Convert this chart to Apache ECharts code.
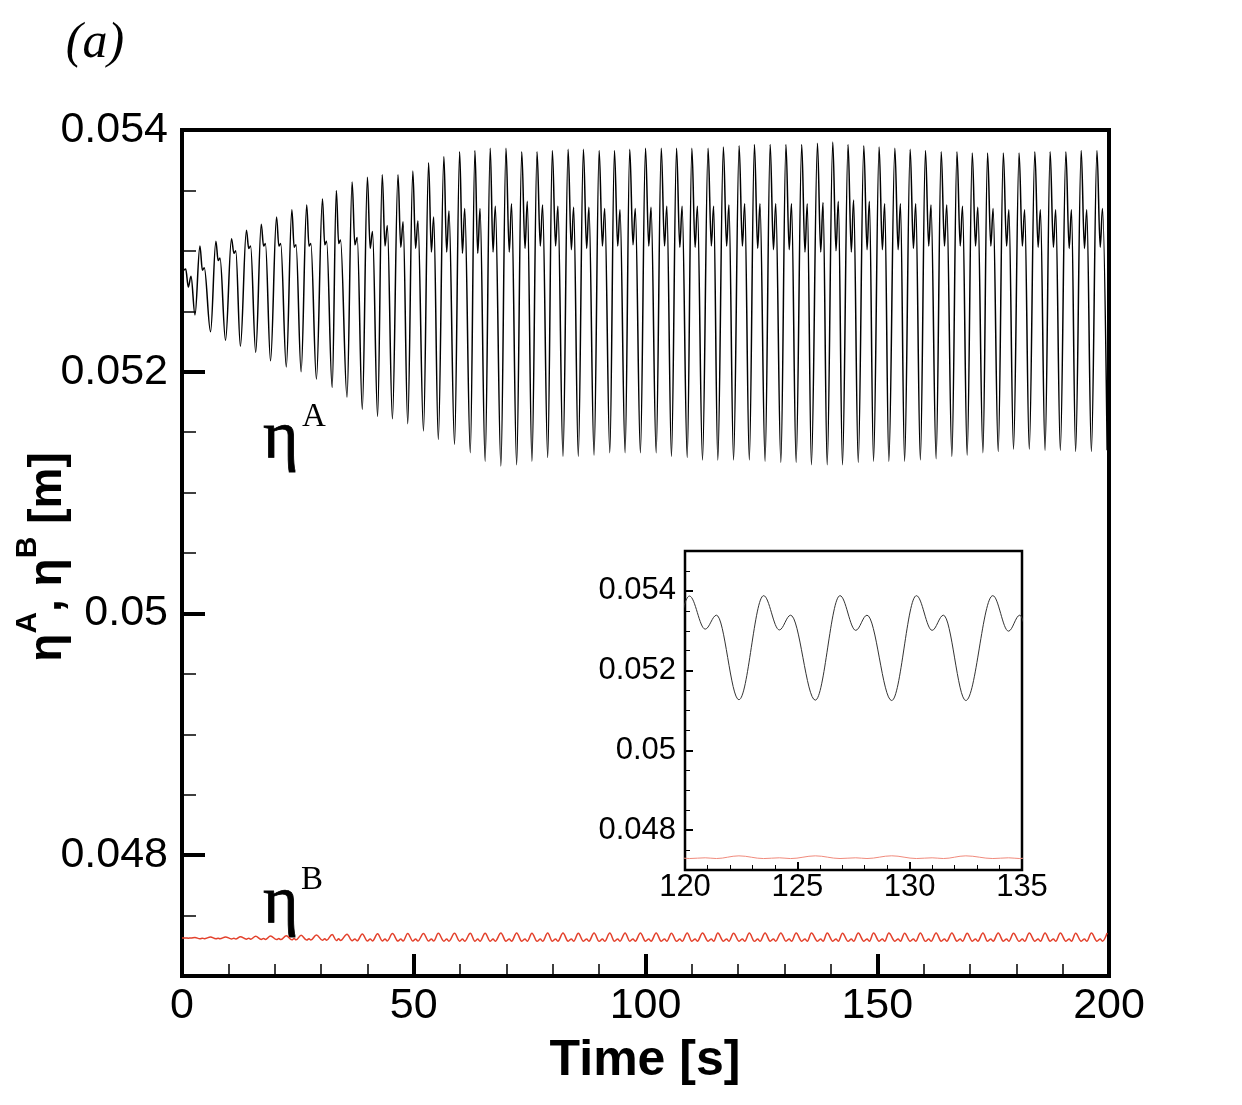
<!DOCTYPE html>
<html>
<head>
<meta charset="utf-8">
<script src="https://cdn.jsdelivr.net/npm/echarts@6/dist/echarts.min.js"></script>
<style>
html, body { margin: 0; padding: 0; background: #fff; }
#chart { width: 1242px; height: 1105px; }
</style>
</head>
<body>
<div id="chart"></div>
<script>
// start-up transient before the first full cycle [s], [m]
var startTime = [0, 0.8, 1.36, 1.94, 2.8];
var startVal = [0.05282, 0.05285, 0.05270, 0.05279, 0.05247];
var redStartVal = [0.047314, 0.047315, 0.047313, 0.047314, 0.047318];

// eta A, one row per wave cycle: main crest, small dip, second crest, trough
var peakTime = [
	3.87, 7.31, 10.68, 13.9, 17.1, 20.4, 23.7, 26.9, 30.3, 33.3,
	36.7, 40.0, 43.2, 46.6, 49.8, 53.2, 56.5, 59.9, 63.2, 66.5,
	69.9, 73.3, 76.6, 79.9, 83.3, 86.6, 90.0, 93.3, 96.6, 100.0,
	103.4, 106.7, 110.0, 113.5, 116.8, 120.2, 123.5, 126.9, 130.3, 133.7,
	137.1, 140.4, 143.7, 147.1, 150.4, 153.8, 157.1, 160.4, 163.8, 167.2,
	170.5, 173.8, 177.2, 180.6, 184.0, 187.3, 190.7, 194.0, 197.4
];
var peakVal = [
	0.05304, 0.05308, 0.05310, 0.05317, 0.05322, 0.05328, 0.05334, 0.05338, 0.05343, 0.05350,
	0.05357, 0.05361, 0.05363, 0.05363, 0.05366, 0.05373, 0.05378, 0.05382, 0.05383, 0.05385,
	0.05385, 0.05382, 0.05382, 0.05383, 0.05384, 0.05384, 0.05383, 0.05383, 0.05384, 0.05385,
	0.05385, 0.05385, 0.05385, 0.05385, 0.05386, 0.05387, 0.05388, 0.05388, 0.05388, 0.05388,
	0.05389, 0.05390, 0.05388, 0.05387, 0.05386, 0.05385, 0.05384, 0.05383, 0.05382, 0.05382,
	0.05381, 0.05381, 0.05381, 0.05381, 0.05382, 0.05382, 0.05382, 0.05383, 0.05383
];
var dipTime = [
	4.4, 7.8, 11.2, 14.4, 17.6, 20.9, 24.2, 27.4, 30.8, 33.8,
	37.3, 40.6, 43.8, 47.2, 50.4, 53.8, 57.1, 60.5, 63.8, 67.1,
	70.6, 74.0, 77.3, 80.6, 84.0, 87.3, 90.7, 94.0, 97.3, 100.7,
	104.1, 107.4, 110.7, 114.2, 117.5, 120.9, 124.2, 127.6, 131.0, 134.4,
	137.8, 141.1, 144.4, 147.8, 151.1, 154.5, 157.8, 161.1, 164.5, 167.9,
	171.2, 174.5, 177.9, 181.3, 184.7, 188.0, 191.4, 194.7, 198.1
];
var dipVal = [
	0.05284, 0.05292, 0.05298, 0.05302, 0.05304, 0.05304, 0.05303, 0.05304, 0.05305, 0.05306,
	0.05305, 0.05302, 0.05304, 0.05303, 0.05302, 0.05299, 0.05299, 0.05298, 0.05298, 0.05299,
	0.05299, 0.05302, 0.05304, 0.05304, 0.05301, 0.05302, 0.05304, 0.05304, 0.05305, 0.05304,
	0.05304, 0.05303, 0.05303, 0.05304, 0.05304, 0.05304, 0.05302, 0.05301, 0.05301, 0.05299,
	0.05299, 0.05300, 0.05299, 0.05301, 0.05301, 0.05301, 0.05302, 0.05304, 0.05304, 0.05304,
	0.05304, 0.05304, 0.05304, 0.05304, 0.05303, 0.05303, 0.05302, 0.05302, 0.05303
];
var shoulderTime = [
	4.8, 8.2, 11.6, 14.8, 18.0, 21.3, 24.6, 27.8, 31.2, 34.2,
	37.8, 41.1, 44.3, 47.7, 50.9, 54.3, 57.6, 61.0, 64.3, 67.6,
	71.1, 74.5, 77.8, 81.1, 84.5, 87.8, 91.2, 94.5, 97.8, 101.2,
	104.6, 107.9, 111.2, 114.7, 118.0, 121.4, 124.7, 128.1, 131.5, 134.9,
	138.3, 141.6, 144.9, 148.3, 151.6, 155.0, 158.3, 161.6, 165.0, 168.4,
	171.7, 175.0, 178.4, 181.8, 185.2, 188.5, 191.9, 195.2, 198.6
];
var shoulderVal = [
	0.05286, 0.05294, 0.05300, 0.05304, 0.05306, 0.05306, 0.05305, 0.05306, 0.05308, 0.05309,
	0.05311, 0.05316, 0.05321, 0.05324, 0.05325, 0.05328, 0.05333, 0.05335, 0.05335, 0.05337,
	0.05339, 0.05341, 0.05338, 0.05337, 0.05336, 0.05336, 0.05335, 0.05334, 0.05335, 0.05336,
	0.05337, 0.05337, 0.05337, 0.05337, 0.05338, 0.05339, 0.05339, 0.05339, 0.05339, 0.05339,
	0.05340, 0.05341, 0.05342, 0.05341, 0.05339, 0.05339, 0.05339, 0.05338, 0.05338, 0.05337,
	0.05336, 0.05335, 0.05334, 0.05334, 0.05334, 0.05334, 0.05334, 0.05334, 0.05335
];
var troughTime = [
	6.16, 9.39, 12.6, 15.9, 19.1, 22.5, 25.7, 29.0, 32.4, 35.6,
	38.9, 42.2, 45.4, 48.7, 52.1, 55.3, 58.8, 62.2, 65.4, 68.8,
	72.2, 75.5, 78.9, 82.2, 85.5, 88.9, 92.3, 95.6, 98.9, 102.3,
	105.6, 109.0, 112.3, 115.6, 119.0, 122.4, 125.8, 129.2, 132.5, 135.8,
	139.2, 142.5, 145.9, 149.2, 152.5, 155.9, 159.3, 162.7, 166.1, 169.4,
	172.8, 176.1, 179.4, 182.8, 186.2, 189.5, 192.8, 196.2, 199.6
];
var troughVal = [
	0.05233, 0.05226, 0.05221, 0.05216, 0.05209, 0.05204, 0.05200, 0.05194, 0.05187, 0.05179,
	0.05169, 0.05163, 0.05161, 0.05157, 0.05151, 0.05144, 0.05140, 0.05133, 0.05126, 0.05122,
	0.05123, 0.05126, 0.05129, 0.05130, 0.05130, 0.05131, 0.05133, 0.05133, 0.05133, 0.05133,
	0.05130, 0.05129, 0.05127, 0.05127, 0.05127, 0.05127, 0.05126, 0.05125, 0.05125, 0.05123,
	0.05123, 0.05123, 0.05125, 0.05126, 0.05126, 0.05126, 0.05127, 0.05128, 0.05130, 0.05131,
	0.05133, 0.05134, 0.05136, 0.05136, 0.05135, 0.05135, 0.05134, 0.05134, 0.05135
];

// eta B ripple, same cycles (crest falls on the eta A trough)
var redPeak = [
	0.047322, 0.047323, 0.047325, 0.047328, 0.047331, 0.047334, 0.047337, 0.047340, 0.047343, 0.047346,
	0.047348, 0.047350, 0.047351, 0.047352, 0.047352, 0.047353, 0.047353, 0.047354, 0.047354, 0.047355,
	0.047355, 0.047354, 0.047355, 0.047355, 0.047354, 0.047355, 0.047355, 0.047356, 0.047355, 0.047355,
	0.047354, 0.047355, 0.047355, 0.047355, 0.047354, 0.047355, 0.047355, 0.047356, 0.047355, 0.047355,
	0.047355, 0.047354, 0.047355, 0.047355, 0.047355, 0.047354, 0.047355, 0.047355, 0.047355, 0.047354,
	0.047355, 0.047355, 0.047354, 0.047355, 0.047355, 0.047355, 0.047354, 0.047355, 0.047355
];
var redLow = [
	0.047309, 0.047308, 0.047307, 0.047305, 0.047303, 0.047301, 0.047299, 0.047297, 0.047295, 0.047293,
	0.047291, 0.047290, 0.047290, 0.047289, 0.047289, 0.047289, 0.047288, 0.047288, 0.047288, 0.047288,
	0.047288, 0.047288, 0.047287, 0.047288, 0.047288, 0.047288, 0.047287, 0.047288, 0.047288, 0.047288,
	0.047288, 0.047287, 0.047288, 0.047288, 0.047288, 0.047288, 0.047287, 0.047288, 0.047288, 0.047288,
	0.047288, 0.047288, 0.047287, 0.047288, 0.047288, 0.047288, 0.047288, 0.047287, 0.047288, 0.047288,
	0.047288, 0.047288, 0.047288, 0.047287, 0.047288, 0.047288, 0.047288, 0.047288, 0.047288
];
var redBump = [
	0.047313, 0.047313, 0.047312, 0.047312, 0.047311, 0.047310, 0.047310, 0.047309, 0.047309, 0.047308,
	0.047307, 0.047307, 0.047306, 0.047306, 0.047306, 0.047306, 0.047306, 0.047306, 0.047306, 0.047306,
	0.047306, 0.047306, 0.047306, 0.047306, 0.047306, 0.047306, 0.047306, 0.047306, 0.047306, 0.047306,
	0.047306, 0.047306, 0.047306, 0.047306, 0.047306, 0.047306, 0.047306, 0.047306, 0.047306, 0.047306,
	0.047306, 0.047306, 0.047306, 0.047306, 0.047306, 0.047306, 0.047306, 0.047306, 0.047306, 0.047306,
	0.047306, 0.047306, 0.047306, 0.047306, 0.047306, 0.047306, 0.047306, 0.047306, 0.047306
];

// labelled ticks
var yTicks = [0.048, 0.05, 0.052, 0.054];
var insetYTicks = [0.048, 0.05, 0.052, 0.054];

function buildEtaA() {
	var pts = [];
	for (var k = 0; k < startTime.length; k++) pts.push([startTime[k], startVal[k]]);
	for (var i = 0; i < peakTime.length; i++) {
		pts.push([peakTime[i], peakVal[i]]);
		pts.push([dipTime[i], dipVal[i]]);
		pts.push([shoulderTime[i], shoulderVal[i]]);
		pts.push([troughTime[i], troughVal[i]]);
	}
	return pts;
}

function buildEtaB() {
	var pts = [];
	for (var k = 0; k < startTime.length; k++) pts.push([startTime[k], redStartVal[k]]);
	for (var i = 0; i < peakTime.length; i++) {
		pts.push([peakTime[i], redLow[i]]);
		pts.push([dipTime[i], redBump[i]]);
		pts.push([shoulderTime[i], redLow[i]]);
		pts.push([troughTime[i], redPeak[i]]);
	}
	return pts;
}

var etaA = buildEtaA();
var etaB = buildEtaB();

var chart = echarts.init(document.getElementById('chart'));
var sans = '"Liberation Sans", Arial, sans-serif';
var serif = '"Liberation Serif", "Times New Roman", serif';

var option = {
	backgroundColor: '#fff',
	animation: false,
	grid: [
		{left: 182, top: 130, width: 927, height: 846, show: true, borderColor: '#000', borderWidth: 4, backgroundColor: 'transparent'},
		{left: 685, top: 551, width: 337, height: 319, show: true, borderColor: '#000', borderWidth: 2.5, backgroundColor: '#fff', z: 5}
	],
	xAxis: [
		{
			gridIndex: 0, type: 'value', min: 0, max: 200, interval: 50,
			axisLine: {show: false},
			splitLine: {show: false},
			axisTick: {inside: true, length: 22, lineStyle: {color: '#000', width: 4}},
			minorTick: {show: true, splitNumber: 5, length: 12, lineStyle: {color: '#000', width: 1.5}},
			axisLabel: {margin: 9, fontSize: 43, fontFamily: sans, color: '#000'}
		},
		{
			gridIndex: 1, type: 'value', min: 120, max: 135, interval: 5, z: 6,
			axisLine: {show: false},
			splitLine: {show: false},
			axisTick: {inside: true, length: 8, lineStyle: {color: '#000', width: 2}},
			minorTick: {show: true, splitNumber: 5, length: 5, lineStyle: {color: '#000', width: 1}},
			axisLabel: {margin: 2, fontSize: 31, fontFamily: sans, color: '#000'}
		}
	],
	yAxis: [
		{
			gridIndex: 0, type: 'value', min: 0.047, max: 0.054, position: 'left',
			axisLine: {show: false},
			splitLine: {show: false},
			axisTick: {inside: true, length: 23, lineStyle: {color: '#000', width: 4}, customValues: yTicks},
			axisLabel: {margin: 14, fontSize: 43, fontFamily: sans, color: '#000', customValues: yTicks}
		},
		{
			gridIndex: 0, type: 'value', min: 0.047, max: 0.054, interval: 0.0005, position: 'left',
			axisLine: {show: false},
			splitLine: {show: false},
			axisLabel: {show: false},
			axisTick: {inside: true, length: 14, lineStyle: {color: '#000', width: 1.5}}
		},
		{
			gridIndex: 1, type: 'value', min: 0.047, max: 0.055, position: 'left', z: 6,
			axisLine: {show: false},
			splitLine: {show: false},
			axisTick: {inside: true, length: 8, lineStyle: {color: '#000', width: 2}, customValues: insetYTicks},
			axisLabel: {margin: 9, fontSize: 31, fontFamily: sans, color: '#000', customValues: insetYTicks}
		},
		{
			gridIndex: 1, type: 'value', min: 0.047, max: 0.055, interval: 0.0005, position: 'left', z: 6,
			axisLine: {show: false},
			splitLine: {show: false},
			axisLabel: {show: false},
			axisTick: {inside: true, length: 5, lineStyle: {color: '#000', width: 1}}
		}
	],
	series: [
		{
			name: 'etaA', type: 'line', xAxisIndex: 0, yAxisIndex: 0, data: etaA,
			showSymbol: false, smooth: 0.36, smoothMonotone: 'x', silent: true,
			lineStyle: {color: '#000', width: 1.5}
		},
		{
			name: 'etaB', type: 'line', xAxisIndex: 0, yAxisIndex: 0, data: etaB,
			showSymbol: false, smooth: 0.36, smoothMonotone: 'x', silent: true,
			lineStyle: {color: '#e3412c', width: 1.5}
		},
		{
			name: 'etaA inset', type: 'line', xAxisIndex: 1, yAxisIndex: 2, data: etaA, z: 7,
			showSymbol: false, smooth: 0.36, smoothMonotone: 'x', silent: true,
			lineStyle: {color: '#333', width: 1}
		},
		{
			name: 'etaB inset', type: 'line', xAxisIndex: 1, yAxisIndex: 2, data: etaB, z: 7,
			showSymbol: false, smooth: 0.36, smoothMonotone: 'x', silent: true,
			lineStyle: {color: '#f08a7c', width: 1}
		}
	],
	graphic: [
		{type: 'text', x: 95, y: 44, style: {text: '(a)', font: 'italic 50px ' + serif, fill: '#000', align: 'center', verticalAlign: 'middle'}},
		{type: 'text', x: 263, y: 440, style: {text: 'η', font: '68px ' + serif, fill: '#000', stroke: '#000', lineWidth: 0.8, align: 'left', verticalAlign: 'middle'}},
		{type: 'text', x: 302, y: 417, style: {text: 'A', font: '33px ' + serif, fill: '#000', align: 'left', verticalAlign: 'middle'}},
		{type: 'text', x: 263, y: 905, style: {text: 'η', font: '68px ' + serif, fill: '#000', stroke: '#000', lineWidth: 0.8, align: 'left', verticalAlign: 'middle'}},
		{type: 'text', x: 301, y: 880, style: {text: 'B', font: '33px ' + serif, fill: '#000', align: 'left', verticalAlign: 'middle'}},
		{type: 'text', x: 645, y: 1061, style: {text: 'Time [s]', font: 'bold 50px ' + sans, fill: '#000', align: 'center', verticalAlign: 'middle'}},
		{
			type: 'text', x: 42, y: 557, rotation: Math.PI / 2,
			style: {
				text: '{e|η}{s|A}{e|, η}{s|B}{e| [m]}',
				align: 'center', verticalAlign: 'middle', fill: '#000',
				rich: {
					e: {fontSize: 46, fontWeight: 'bold', fontFamily: sans, padding: [12, 0, 0, 0]},
					s: {fontSize: 30, fontWeight: 'bold', fontFamily: sans, verticalAlign: 'top'}
				}
			}
		}
	]
};

chart.setOption(option);

window.onresize = function() {
	chart.resize();
};
</script>
</body>
</html>
